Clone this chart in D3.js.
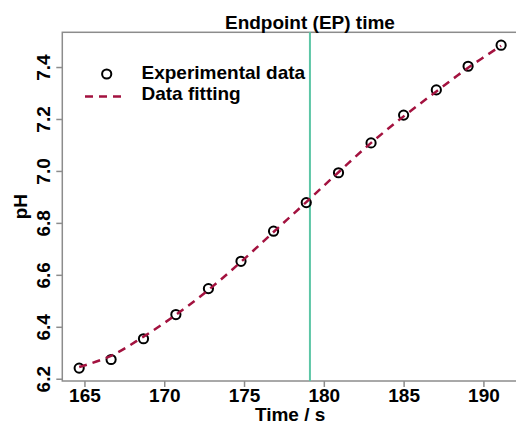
<!DOCTYPE html>
<html>
<head>
<meta charset="utf-8">
<script src="https://cdn.jsdelivr.net/npm/d3@7"></script>
<style>
  html, body { margin: 0; padding: 0; background: #fff; }
  svg { display: block; font-family: "Liberation Sans", Arial, sans-serif; font-weight: bold; }
</style>
</head>
<body>
<svg id="chart" width="516" height="426"></svg>
<script>
// Titration data: time (s) and measured pH
const timeS = [164.67, 166.67, 168.70, 170.73, 172.77, 174.81, 176.85, 178.90, 180.92, 182.96, 185.00, 187.05, 189.04, 191.11];
const phMeasured = [6.241, 6.274, 6.354, 6.447, 6.547, 6.652, 6.768, 6.878, 6.993, 7.108, 7.215, 7.312, 7.403, 7.484];
// Fitted curve evaluated at the same times
const phFitted = [6.245, 6.288, 6.362, 6.446, 6.542, 6.650, 6.765, 6.880, 6.995, 7.108, 7.210, 7.306, 7.397, 7.482];
// Endpoint time (s)
const endpointTime = [179.13];
const xTicks = [165, 170, 175, 180, 185, 190];
const yTicks = [6.2, 6.4, 6.6, 6.8, 7.0, 7.2, 7.4];
const legendLabels = ["Experimental data", "Data fitting"];

const svg = d3.select("#chart");
const plot = { left: 62.3, right: 518, top: 32.3, bottom: 381 };

// extend data range by 4% on each side
function padded(ext) {
  const p = (ext[1] - ext[0]) * 0.04;
  return [ext[0] - p, ext[1] + p];
}
const x = d3.scaleLinear().domain(padded(d3.extent(timeS))).range([plot.left, plot.right]);
const y = d3.scaleLinear().domain(padded(d3.extent(phMeasured))).range([plot.bottom, plot.top]);

const axisColor = "#8c8c8c";

// plot box
svg.append("rect")
  .attr("x", plot.left).attr("y", plot.top)
  .attr("width", plot.right - plot.left).attr("height", plot.bottom - plot.top)
  .attr("fill", "none").attr("stroke", axisColor).attr("stroke-width", 1.5);

// x axis
const xAxis = svg.append("g")
  .attr("transform", `translate(0,${plot.bottom})`)
  .call(d3.axisBottom(x).tickValues(xTicks).tickSize(6).tickPadding(3).tickFormat(d3.format("d")));
xAxis.select(".domain").remove();
xAxis.selectAll(".tick line").attr("stroke", axisColor).attr("stroke-width", 1.5);
xAxis.selectAll(".tick text")
  .attr("fill", "#000").attr("font-size", 19).attr("font-family", null)
  .attr("dy", null).attr("y", 21);

// y axis with rotated labels
const yAxis = svg.append("g")
  .attr("transform", `translate(${plot.left},0)`)
  .call(d3.axisLeft(y).tickValues(yTicks).tickSize(6).tickFormat(d3.format(".1f")));
yAxis.select(".domain").remove();
yAxis.selectAll(".tick line").attr("stroke", axisColor).attr("stroke-width", 1.5);
yAxis.selectAll(".tick text")
  .attr("fill", "#000").attr("font-size", 19).attr("font-family", null)
  .attr("x", null).attr("dy", null)
  .attr("text-anchor", "middle")
  .attr("transform", "translate(-12,0) rotate(-90)");

// axis titles
svg.append("text")
  .attr("x", (plot.left + plot.right) / 2).attr("y", 421)
  .attr("text-anchor", "middle").attr("font-size", 19)
  .text("Time / s");
svg.append("text")
  .attr("transform", `translate(27,${(plot.top + plot.bottom) / 2}) rotate(-90)`)
  .attr("text-anchor", "middle").attr("font-size", 19)
  .text("pH");

// endpoint marker and its label
svg.append("line")
  .attr("x1", x(endpointTime[0])).attr("x2", x(endpointTime[0]))
  .attr("y1", plot.top).attr("y2", plot.bottom)
  .attr("stroke", "#5cc6a6").attr("stroke-width", 2);
svg.append("text")
  .attr("x", x(endpointTime[0])).attr("y", 29)
  .attr("text-anchor", "middle").attr("font-size", 19)
  .text("Endpoint (EP) time");

const fitColor = "#a3123f";

// measured points
svg.append("g").selectAll("circle")
  .data(timeS.map((t, i) => [t, phMeasured[i]]))
  .join("circle")
  .attr("cx", d => x(d[0])).attr("cy", d => y(d[1]))
  .attr("r", 4.6)
  .attr("fill", "none").attr("stroke", "#000").attr("stroke-width", 2);

// fitted curve
const line = d3.line().x(d => x(d[0])).y(d => y(d[1])).curve(d3.curveCatmullRom);
svg.append("path")
  .datum(timeS.map((t, i) => [t, phFitted[i]]))
  .attr("d", line)
  .attr("fill", "none").attr("stroke", fitColor)
  .attr("stroke-width", 2.5).attr("stroke-dasharray", "8,6");

// legend
const lg = svg.append("g");
lg.append("circle")
  .attr("cx", 106.7).attr("cy", 74).attr("r", 4.6)
  .attr("fill", "none").attr("stroke", "#000").attr("stroke-width", 2);
lg.append("line")
  .attr("x1", 85).attr("x2", 124).attr("y1", 96.5).attr("y2", 96.5)
  .attr("stroke", fitColor).attr("stroke-width", 2.5).attr("stroke-dasharray", "8,6");
lg.selectAll("text")
  .data(legendLabels)
  .join("text")
  .attr("x", 141.5).attr("y", (d, i) => 78.5 + i * 21.5)
  .attr("font-size", 19)
  .text(d => d);
</script>
</body>
</html>
